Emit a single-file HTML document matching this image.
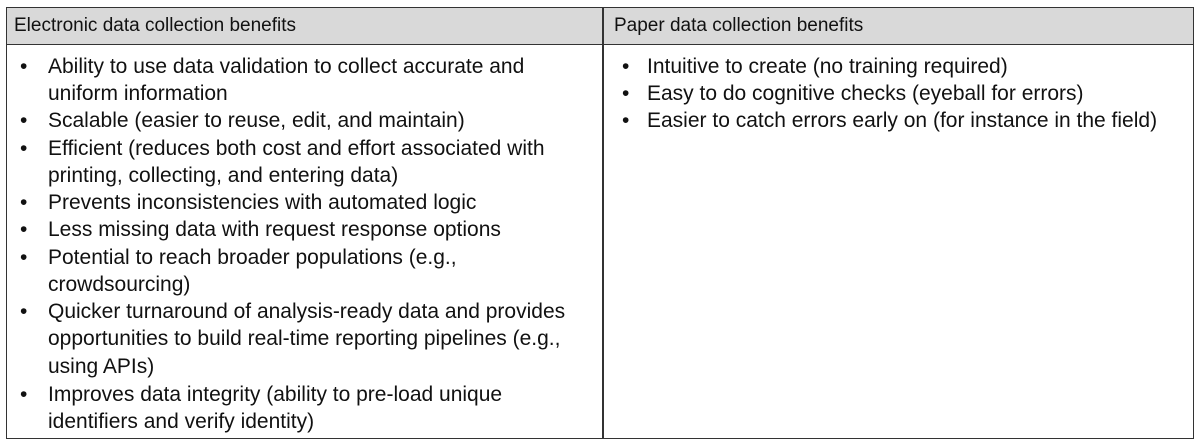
<!DOCTYPE html>
<html><head><meta charset="utf-8"><style>
body{margin:0;width:1203px;height:448px;background:#fff;position:relative;font-family:"Liberation Sans",sans-serif;font-size:21px;color:#111;overflow:hidden}
.t{position:absolute;white-space:nowrap;line-height:20px}
.h{font-size:19px}
.box{position:absolute;left:6px;top:7px;width:1188px;height:432px;border:1.5px solid #333;box-sizing:border-box}
.hdr{position:absolute;left:6px;top:7px;width:1188px;height:38px;background:#d9d9d9;border:1.5px solid #333;box-sizing:border-box}
.vl{position:absolute;left:602px;top:7px;width:1.5px;height:432px;background:#333}
</style></head><body>
<div class="hdr"></div><div class="box"></div><div class="vl"></div>
<div class="t h" style="left:14px;top:16px">Electronic data collection benefits</div>
<div class="t h" style="left:614px;top:16px">Paper data collection benefits</div>
<div class="t" style="left:20px;top:57px">•</div><div class="t" style="left:48px;top:57px">Ability to use data validation to collect accurate and</div>
<div class="t" style="left:48px;top:84px">uniform information</div>
<div class="t" style="left:20px;top:111px">•</div><div class="t" style="left:48px;top:111px">Scalable (easier to reuse, edit, and maintain)</div>
<div class="t" style="left:20px;top:139px">•</div><div class="t" style="left:48px;top:139px">Efficient (reduces both cost and effort associated with</div>
<div class="t" style="left:48px;top:166px">printing, collecting, and entering data)</div>
<div class="t" style="left:20px;top:193px">•</div><div class="t" style="left:48px;top:193px">Prevents inconsistencies with automated logic</div>
<div class="t" style="left:20px;top:220px">•</div><div class="t" style="left:48px;top:220px">Less missing data with request response options</div>
<div class="t" style="left:20px;top:248px">•</div><div class="t" style="left:48px;top:248px">Potential to reach broader populations (e.g.,</div>
<div class="t" style="left:48px;top:275px">crowdsourcing)</div>
<div class="t" style="left:20px;top:302px">•</div><div class="t" style="left:48px;top:302px">Quicker turnaround of analysis-ready data and provides</div>
<div class="t" style="left:48px;top:329px">opportunities to build real-time reporting pipelines (e.g.,</div>
<div class="t" style="left:48px;top:357px">using APIs)</div>
<div class="t" style="left:20px;top:385px">•</div><div class="t" style="left:48px;top:385px">Improves data integrity (ability to pre-load unique</div>
<div class="t" style="left:48px;top:412px">identifiers and verify identity)</div>
<div class="t" style="left:622px;top:57px">•</div><div class="t" style="left:647px;top:57px">Intuitive to create (no training required)</div>
<div class="t" style="left:622px;top:84px">•</div><div class="t" style="left:647px;top:84px">Easy to do cognitive checks (eyeball for errors)</div>
<div class="t" style="left:622px;top:111px">•</div><div class="t" style="left:647px;top:111px">Easier to catch errors early on (for instance in the field)</div>
</body></html>
